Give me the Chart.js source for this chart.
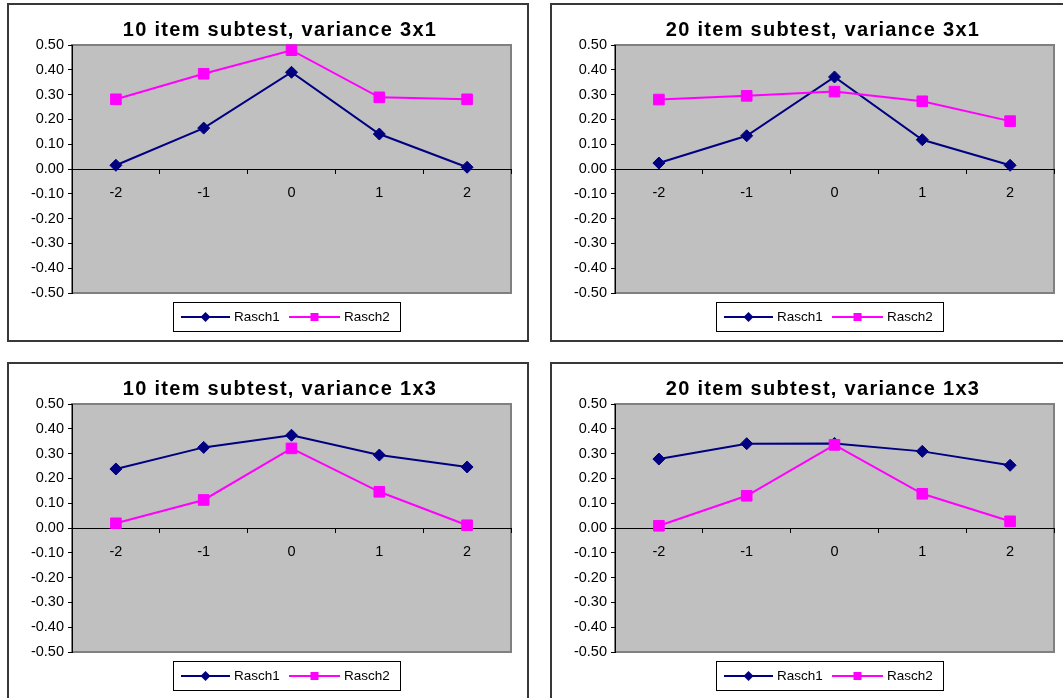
<!DOCTYPE html>
<html>
<head>
<meta charset="utf-8">
<script src="https://cdn.jsdelivr.net/npm/chart.js@4.4.1/dist/chart.umd.min.js"></script>
<style>
  html, body { margin: 0; padding: 0; background: #fff; overflow: hidden; width: 1063px; height: 698px; }
  canvas { position: absolute; }
</style>
</head>
<body>
<canvas id="c1" width="522" height="339" style="left:7px;top:3px"></canvas>
<canvas id="c2" width="522" height="339" style="left:550px;top:3px"></canvas>
<canvas id="c3" width="522" height="339" style="left:7px;top:362px"></canvas>
<canvas id="c4" width="522" height="339" style="left:550px;top:362px"></canvas>
<script>
// Ability levels on the x axis
const categories = ['-2', '-1', '0', '1', '2'];

// Value axis range and step
const yMin = -0.5;
const yMax = 0.5;
const yStep = 0.1;

const seriesNames = ['Rasch1', 'Rasch2'];

// 10 item subtest, variance 3x1
const rasch1_10_3x1 = [0.015, 0.165, 0.390, 0.141, 0.007];
const rasch2_10_3x1 = [0.281, 0.384, 0.479, 0.289, 0.281];

// 20 item subtest, variance 3x1
const rasch1_20_3x1 = [0.024, 0.134, 0.371, 0.118, 0.015];
const rasch2_20_3x1 = [0.280, 0.295, 0.312, 0.273, 0.193];

// 10 item subtest, variance 1x3
const rasch1_10_1x3 = [0.238, 0.325, 0.374, 0.294, 0.246];
const rasch2_10_1x3 = [0.019, 0.113, 0.321, 0.146, 0.011];

// 20 item subtest, variance 1x3
const rasch1_20_1x3 = [0.278, 0.340, 0.341, 0.309, 0.253];
const rasch2_20_1x3 = [0.009, 0.130, 0.335, 0.138, 0.027];

const NAVY = '#000080';
const MAGENTA = '#ff00ff';
const FONT = "'Liberation Sans', Arial, Helvetica, sans-serif";

function drawDiamond(ctx, x, y, r, color) {
  ctx.beginPath();
  ctx.moveTo(x, y - r);
  ctx.lineTo(x + r, y);
  ctx.lineTo(x, y + r);
  ctx.lineTo(x - r, y);
  ctx.closePath();
  ctx.fillStyle = color;
  ctx.fill();
}

function drawSquare(ctx, x, y, h, color) {
  ctx.fillStyle = color;
  ctx.fillRect(x - h, y - h, 2 * h, 2 * h);
}

// Frame, grey plot area, title and boxed legend
const panelPlugin = {
  id: 'panel',
  beforeDraw(chart, args, opts) {
    const { ctx, chartArea: a, width, height } = chart;
    ctx.save();
    ctx.fillStyle = '#ffffff';
    ctx.fillRect(0, 0, width, height);
    ctx.strokeStyle = '#383838';
    ctx.lineWidth = 2;
    ctx.strokeRect(1, 1, width - 2, height - 2);

    ctx.fillStyle = '#c0c0c0';
    ctx.fillRect(a.left, a.top, a.right - a.left, a.bottom - a.top);
    ctx.strokeStyle = '#808080';
    ctx.lineWidth = 2;
    ctx.strokeRect(a.left, a.top, a.right - a.left, a.bottom - a.top);

    ctx.fillStyle = '#000';
    ctx.font = 'bold 20px ' + FONT;
    if ('letterSpacing' in ctx) ctx.letterSpacing = '1.3px';
    ctx.textAlign = 'center';
    ctx.textBaseline = 'alphabetic';
    ctx.fillText(opts.title, 273, 33);
    ctx.restore();
  },
  afterDraw(chart) {
    const { ctx } = chart;
    ctx.save();
    ctx.fillStyle = '#ffffff';
    ctx.fillRect(166, 299, 227, 30);
    ctx.strokeStyle = '#000';
    ctx.lineWidth = 1;
    ctx.strokeRect(166.5, 299.5, 227, 29);

    const y = 314;
    const items = [
      { x0: 174, x1: 223, color: NAVY, mark: 'diamond', text: seriesNames[0] },
      { x0: 282, x1: 333, color: MAGENTA, mark: 'square', text: seriesNames[1] }
    ];
    ctx.font = '13.5px ' + FONT;
    ctx.textAlign = 'left';
    ctx.textBaseline = 'middle';
    items.forEach(it => {
      ctx.strokeStyle = it.color;
      ctx.lineWidth = 2;
      ctx.beginPath();
      ctx.moveTo(it.x0, y);
      ctx.lineTo(it.x1, y);
      ctx.stroke();
      const mx = (it.x0 + it.x1) / 2;
      if (it.mark === 'diamond') drawDiamond(ctx, mx, y, 5, it.color);
      else drawSquare(ctx, mx, y, 4, it.color);
      ctx.fillStyle = '#000';
      ctx.fillText(it.text, it.x1 + 4, y + 0.5);
    });
    ctx.restore();
  }
};

function makeChart(id, title, r1, r2) {
  const ctx = document.getElementById(id).getContext('2d');
  return new Chart(ctx, {
    type: 'line',
    data: {
      labels: categories,
      datasets: [
        {
          label: seriesNames[0],
          data: r1,
          borderColor: NAVY,
          backgroundColor: NAVY,
          borderWidth: 2,
          pointStyle: 'rectRot',
          pointRadius: 6,
          pointBorderWidth: 1,
          pointBorderColor: NAVY,
          pointBackgroundColor: NAVY,
          tension: 0,
          clip: false,
          order: 1
        },
        {
          label: seriesNames[1],
          data: r2,
          borderColor: MAGENTA,
          backgroundColor: MAGENTA,
          borderWidth: 2,
          pointStyle: 'rect',
          pointRadius: 7.5,
          pointBorderWidth: 1,
          pointBorderColor: MAGENTA,
          pointBackgroundColor: MAGENTA,
          tension: 0,
          clip: false,
          order: 0
        }
      ]
    },
    options: {
      responsive: false,
      animation: false,
      devicePixelRatio: 1,
      layout: { padding: { left: 0, top: 42, right: 18, bottom: 49 } },
      plugins: {
        legend: { display: false },
        title: { display: false },
        tooltip: { enabled: false },
        panel: { title: title }
      },
      scales: {
        x: {
          type: 'category',
          position: { y: 0 },
          offset: true,
          grid: {
            offset: true,
            drawOnChartArea: false,
            drawTicks: true,
            tickLength: 4,
            color: '#000',
            lineWidth: 1
          },
          border: { display: true, color: '#000', width: 1 },
          ticks: {
            color: '#000',
            font: { family: FONT, size: 14.5 },
            padding: 11,
            maxRotation: 0,
            autoSkip: false
          }
        },
        y: {
          position: 'left',
          min: yMin,
          max: yMax,
          afterFit(scale) { scale.width = 65; },
          grid: {
            drawOnChartArea: false,
            drawTicks: true,
            tickLength: 4,
            color: '#000',
            lineWidth: 1
          },
          border: { display: true, color: '#000', width: 1 },
          ticks: {
            stepSize: yStep,
            color: '#000',
            padding: 4,
            font: { family: FONT, size: 14.5 },
            callback: v => Number(v).toFixed(2)
          }
        }
      }
    },
    plugins: [panelPlugin]
  });
}

makeChart('c1', '10 item subtest, variance 3x1', rasch1_10_3x1, rasch2_10_3x1);
makeChart('c2', '20 item subtest, variance 3x1', rasch1_20_3x1, rasch2_20_3x1);
makeChart('c3', '10 item subtest, variance 1x3', rasch1_10_1x3, rasch2_10_1x3);
makeChart('c4', '20 item subtest, variance 1x3', rasch1_20_1x3, rasch2_20_1x3);
</script>
</body>
</html>
